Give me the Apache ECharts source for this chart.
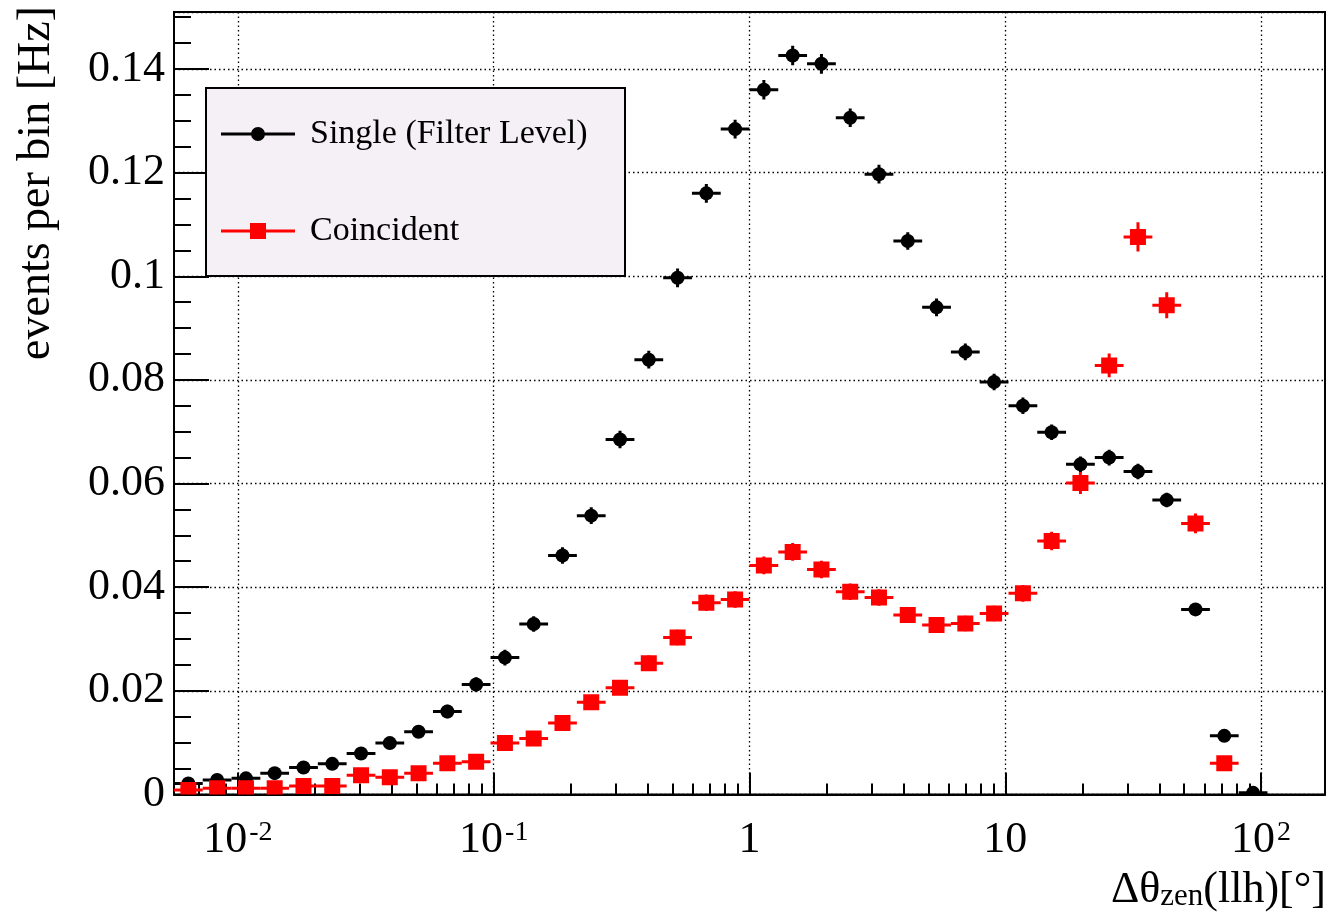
<!DOCTYPE html>
<html>
<head>
<meta charset="utf-8">
<script src="https://cdn.jsdelivr.net/npm/echarts@6/dist/echarts.min.js"></script>
<style>
html,body{margin:0;padding:0;background:#fff;}
#chart{width:1334px;height:912px;}
</style>
</head>
<body>
<div id="chart"></div>
<script>
// ---- data ----
const binCenters = [0.0064, 0.00829, 0.01075, 0.01392, 0.01804, 0.02337, 0.03029, 0.03924, 0.05084, 0.06588,
  0.08536, 0.1106, 0.1433, 0.1857, 0.2406, 0.3117, 0.4039, 0.5233, 0.6780, 0.8785,
  1.138, 1.475, 1.911, 2.476, 3.208, 4.157, 5.386, 6.978, 9.042, 11.72,
  15.18, 19.67, 25.48, 33.02, 42.78, 55.43, 71.82, 93.06];
const binHalfWidthDecades = 0.05625;

const singleValues = [0.0021, 0.0028, 0.0031, 0.0041, 0.0052, 0.0059, 0.0079, 0.0099, 0.0121, 0.0160,
  0.0212, 0.0264, 0.0329, 0.0461, 0.0538, 0.0685, 0.0839, 0.0997, 0.1160, 0.1284,
  0.1360, 0.1426, 0.1410, 0.1306, 0.1197, 0.1068, 0.0940, 0.0854, 0.0796, 0.0750,
  0.0699, 0.0637, 0.0650, 0.0623, 0.0568, 0.0357, 0.0113, 0.0003];
const singleErrors = [0.0008, 0.0009, 0.0009, 0.0010, 0.0010, 0.0010, 0.0011, 0.0012, 0.0012, 0.0013,
  0.0014, 0.0015, 0.0015, 0.0016, 0.0016, 0.0017, 0.0017, 0.0018, 0.0018, 0.0018,
  0.0019, 0.0019, 0.0019, 0.0018, 0.0018, 0.0017, 0.0017, 0.0016, 0.0016, 0.0016,
  0.0015, 0.0015, 0.0015, 0.0015, 0.0014, 0.0012, 0.0008, 0.0002];

const coincValues = [0.00085, 0.0012, 0.0012, 0.0012, 0.0016, 0.0016, 0.0037, 0.0033, 0.0041, 0.0060,
  0.0063, 0.0099, 0.0108, 0.0138, 0.0178, 0.0206, 0.0253, 0.0303, 0.0370, 0.0376,
  0.0442, 0.0468, 0.0434, 0.0391, 0.0380, 0.0346, 0.0327, 0.0330, 0.0349, 0.0388,
  0.0489, 0.0601, 0.0828, 0.1076, 0.0944, 0.0523, 0.0060, null];
const coincErrors = [0.0005, 0.0006, 0.0006, 0.0006, 0.0007, 0.0007, 0.0009, 0.0009, 0.0010, 0.0011,
  0.0011, 0.0012, 0.0012, 0.0013, 0.0014, 0.0014, 0.0015, 0.0015, 0.0016, 0.0016,
  0.0017, 0.0017, 0.0017, 0.0016, 0.0016, 0.0015, 0.0015, 0.0015, 0.0015, 0.0016,
  0.0018, 0.0021, 0.0023, 0.0028, 0.0025, 0.0019, 0.0008, null];

const seriesNames = ['Single (Filter Level)', 'Coincident'];

const xMajorTicks = [0.01, 0.1, 1, 10, 100];
const xTickBase = ['10', '10', '1', '10', '10'];
const xTickExp = ['-2', '-1', '', '', '2'];
const xMinorTicks = [0.007, 0.008, 0.009,
  0.02, 0.03, 0.04, 0.05, 0.06, 0.07, 0.08, 0.09,
  0.2, 0.3, 0.4, 0.5, 0.6, 0.7, 0.8, 0.9,
  2, 3, 4, 5, 6, 7, 8, 9,
  20, 30, 40, 50, 60, 70, 80, 90];
const yMinorTicks = [0.005, 0.01, 0.015, 0.025, 0.03, 0.035, 0.045, 0.05, 0.055, 0.065, 0.07, 0.075,
  0.085, 0.09, 0.095, 0.105, 0.11, 0.115, 0.125, 0.13, 0.135, 0.145, 0.15];

const xMin = Math.pow(10, -2.25), xMax = Math.pow(10, 2.25);
const yMax = 0.151;

// ---- build ----
function buildData(vals, errs) {
  const out = [];
  for (let i = 0; i < binCenters.length; i++) {
    if (vals[i] === null || vals[i] === undefined) continue;
    out.push([binCenters[i], vals[i], errs[i]]);
  }
  return out;
}

function makeRender(markerType) {
  return function (params, api) {
    const x = api.value(0), y = api.value(1), e = api.value(2);
    const f = Math.pow(10, binHalfWidthDecades);
    const c = api.coord([x, y]);
    const lo = api.coord([x / f, y]);
    const hi = api.coord([x * f, y]);
    const top = api.coord([x, y + e]);
    const bot = api.coord([x, Math.max(0, y - e)]);
    const color = api.visual('color');
    const lw = 3;
    const children = [
      { type: 'line', shape: { x1: lo[0], y1: c[1], x2: hi[0], y2: c[1] }, style: { stroke: color, lineWidth: lw } },
      { type: 'line', shape: { x1: c[0], y1: top[1], x2: c[0], y2: bot[1] }, style: { stroke: color, lineWidth: lw } }
    ];
    if (markerType === 'circle') {
      children.push({ type: 'circle', shape: { cx: c[0], cy: c[1], r: 7 }, style: { fill: color } });
    } else {
      children.push({ type: 'rect', shape: { x: c[0] - 8, y: c[1] - 8, width: 16, height: 16 }, style: { fill: color } });
    }
    return { type: 'group', children: children };
  };
}

const serif = 'Liberation Serif';
const chart = echarts.init(document.getElementById('chart'), null, { renderer: 'canvas' });

const option = {
  backgroundColor: '#ffffff',
  animation: false,
  grid: { left: 174, right: 9, top: 12, bottom: 117.6, show: true, borderColor: '#000', borderWidth: 2, containLabel: false },
  xAxis: [
    {
      type: 'log', logBase: 10, min: xMin, max: xMax, position: 'bottom',
      axisLine: { show: true, onZero: false, lineStyle: { color: '#000', width: 2 } },
      axisTick: { show: true, inside: true, length: 22, customValues: xMajorTicks, lineStyle: { color: '#000', width: 2 } },
      axisLabel: {
        show: true, customValues: xMajorTicks, margin: 24, color: '#000',
        formatter: function (v) {
          const k = Math.round(Math.log10(v));
          const idx = xMajorTicks.findIndex(t => Math.round(Math.log10(t)) === k);
          if (idx < 0) return '';
          return xTickExp[idx] ? '{b|' + xTickBase[idx] + '}{s|' + xTickExp[idx] + '}' : '{b|' + xTickBase[idx] + '}';
        },
        rich: {
          b: { fontFamily: serif, fontSize: 44, color: '#000', lineHeight: 44 },
          s: { fontFamily: serif, fontSize: 28, color: '#000', verticalAlign: 'top', padding: [0, 0, 0, 2], lineHeight: 28 }
        }
      },
      splitLine: { show: true, lineStyle: { color: '#000', width: 1.3, type: [1.5, 3] } },
      minorTick: { show: false }
    },
    {
      type: 'log', logBase: 10, min: xMin, max: xMax, position: 'bottom', offset: 0,
      axisLine: { show: false, onZero: false },
      axisTick: { show: true, inside: true, length: 11, customValues: xMinorTicks, lineStyle: { color: '#000', width: 2 } },
      axisLabel: { show: false },
      splitLine: { show: false }
    }
  ],
  yAxis: [
    {
      type: 'value', min: 0, max: yMax, interval: 0.02, position: 'left',
      axisLine: { show: true, onZero: false, lineStyle: { color: '#000', width: 2 } },
      axisTick: { show: true, inside: true, length: 35, lineStyle: { color: '#000', width: 2 } },
      axisLabel: { show: true, showMaxLabel: false, margin: 9, color: '#000', fontFamily: serif, fontSize: 44,
        formatter: function (v) { return String(Math.round(v * 1000) / 1000); } },
      splitLine: { show: true, lineStyle: { color: '#000', width: 1.3, type: [1.5, 3] } }
    },
    {
      type: 'value', min: 0, max: yMax, position: 'left', offset: 0,
      axisLine: { show: false, onZero: false },
      axisTick: { show: true, inside: true, length: 17, customValues: yMinorTicks, lineStyle: { color: '#000', width: 2 } },
      axisLabel: { show: false },
      splitLine: { show: false }
    }
  ],
  legend: {
    show: true, orient: 'vertical', left: 221, top: 116, padding: 0, itemGap: 61, itemWidth: 74, itemHeight: 16,
    textStyle: { fontFamily: serif, fontSize: 34, color: '#000', lineHeight: 36, padding: [0, 0, 0, 10] },
    selectedMode: false, z: 10,
    data: [
      { name: seriesNames[0], icon: 'path://M0,6.5L74,6.5L74,9.5L0,9.5Z M30,8A7,7 0 1,1 44,8A7,7 0 1,1 30,8Z' },
      { name: seriesNames[1], icon: 'path://M0,6.5L74,6.5L74,9.5L0,9.5Z M29,0L45,0L45,16L29,16Z' }
    ]
  },
  graphic: [
    { type: 'rect', z: 5, shape: { x: 206, y: 88, width: 419, height: 188 }, style: { fill: '#f5f0f5', stroke: '#000', lineWidth: 2 } },
    { type: 'text', z: 5, x: 37, y: 183, rotation: Math.PI / 2,
      style: { text: 'events per bin [Hz]', fontFamily: serif, fontSize: 46, fill: '#000', align: 'center', verticalAlign: 'middle' } },
    { type: 'text', z: 5, x: 1326, y: 912,
      style: { text: '{a|Δθ}{s|zen}{a|(llh)[°]}', align: 'right', verticalAlign: 'bottom',
        rich: {
          a: { fontFamily: serif, fontSize: 44, fill: '#000', color: '#000', verticalAlign: 'middle' },
          s: { fontFamily: serif, fontSize: 31, fill: '#000', color: '#000', verticalAlign: 'bottom' }
        } } }
  ],
  series: [
    {
      name: seriesNames[0], type: 'custom', xAxisIndex: 0, yAxisIndex: 0, clip: true, z: 3,
      itemStyle: { color: '#000000' },
      renderItem: makeRender('circle'),
      encode: { x: 0, y: 1 },
      data: buildData(singleValues, singleErrors)
    },
    {
      name: seriesNames[1], type: 'custom', xAxisIndex: 0, yAxisIndex: 0, clip: true, z: 4,
      itemStyle: { color: '#ff0000' },
      renderItem: makeRender('rect'),
      encode: { x: 0, y: 1 },
      data: buildData(coincValues, coincErrors)
    }
  ]
};
chart.setOption(option);
</script>
</body>
</html>
